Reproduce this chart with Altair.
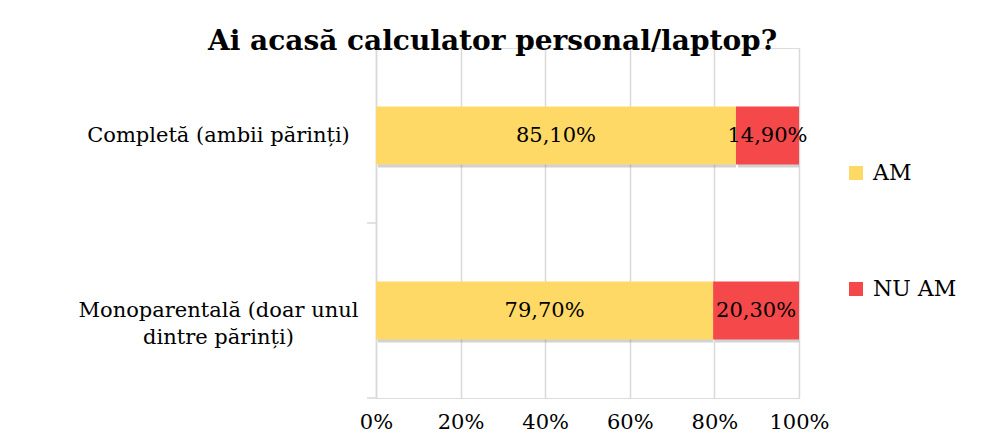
import altair as alt
import pandas as pd

categories = ["Completă (ambii părinți)", "Monoparentală (doar unul dintre părinți)"]
series = ["AM", "NU AM"]
am_values = [85.10, 79.70]
nu_am_values = [14.90, 20.30]
x_ticks = [0, 20, 40, 60, 80, 100]
colors = ["#FFD966", "#F4484A"]

rows = []
for i, cat in enumerate(categories):
    for j, (s, v) in enumerate(zip(series, [am_values[i], nu_am_values[i]])):
        rows.append({"category": cat, "series": s, "value": v, "order": j,
                     "label": f"{v:.2f}%".replace(".", ",")})
df = pd.DataFrame(rows)

FONT = "DejaVu Serif"
GRID = "#d9d9d9"

base = alt.Chart(df).transform_stack(
    stack="value", groupby=["category"], as_=["x0", "x1"],
    sort=[alt.SortField("order", order="ascending")]
).transform_calculate(mid="(datum.x0 + datum.x1) / 2")

y_enc = alt.Y("category:N", sort=categories, title=None,
              scale=alt.Scale(paddingInner=0, paddingOuter=0),
              axis=alt.Axis(
                  labelExpr="datum.label == 'Monoparentală (doar unul dintre părinți)' ? ['Monoparentală (doar unul', 'dintre părinți)'] : datum.label",
                  labelFont=FONT, labelFontSize=21, labelColor="#000000",
                  labelAlign="center", labelBaseline="middle", labelLimit=400,
                  labelPadding=158, labelLineHeight=27, ticks=False, tickSize=0,
                  domain=True, domainColor=GRID, domainWidth=1.5, grid=False))

x_scale = alt.Scale(domain=[0, 100], nice=False, zero=True)

shadow = base.mark_bar(size=58, color="#7f7f7f", opacity=0.35, xOffset=2, yOffset=3).encode(
    x=alt.X("x0:Q", scale=x_scale, title=None,
            axis=alt.Axis(values=x_ticks, labelExpr="datum.value + '%'",
                          labelFont=FONT, labelFontSize=21, labelColor="#000000",
                          labelPadding=13, labelFlush=False, ticks=False, domain=False,
                          grid=True, gridColor=GRID, gridWidth=1.5)),
    x2="x1:Q",
    y=y_enc,
)

bars = base.mark_bar(size=58).encode(
    x=alt.X("x0:Q", scale=x_scale),
    x2="x1:Q",
    y=alt.Y("category:N", sort=categories),
    color=alt.Color("series:N", scale=alt.Scale(domain=series, range=colors),
                    legend=alt.Legend(title=None, orient="none", legendX=469, legendY=114,
                                      symbolType="square", symbolSize=196,
                                      symbolStrokeWidth=0, labelFont=FONT,
                                      labelFontSize=22, labelColor="#000000",
                                      labelOffset=6, rowPadding=94)),
)

texts = base.mark_text(font=FONT, fontSize=21, color="#000000", baseline="middle").encode(
    x=alt.X("mid:Q", scale=x_scale),
    y=alt.Y("category:N", sort=categories),
    text="label:N",
)

ticks = alt.Chart(pd.DataFrame({"category": categories})).mark_rule(
    color=GRID, strokeWidth=1.5).encode(
    y=alt.Y("category:N", sort=categories, bandPosition=1),
    x=alt.value(-9), x2=alt.value(0),
)

chart = alt.layer(shadow, bars, texts, ticks).properties(
    width=423, height=350,
    title=alt.TitleParams("Ai acasă calculator personal/laptop?", font=FONT,
                          fontSize=28, fontWeight="bold", color="#000000",
                          anchor="middle", dx=-95, baseline="alphabetic",
                          offset=0, dy=30),
    autosize=alt.AutoSizeParams(type="none"),
    padding={"left": 368, "top": 40, "right": 178, "bottom": 41},
).configure_view(stroke=None).configure(background="white")

chart.save("out.html", embed_options={"renderer": "svg", "actions": False})
